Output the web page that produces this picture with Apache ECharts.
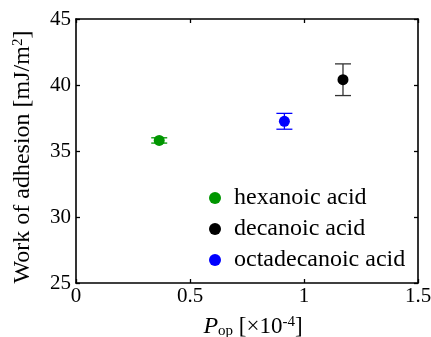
<!DOCTYPE html>
<html>
<head>
<meta charset="utf-8">
<script src="https://cdn.jsdelivr.net/npm/echarts@6/dist/echarts.min.js"></script>
<style>html,body{margin:0;padding:0;background:#fff}#c{width:431px;height:337px}</style>
</head>
<body>
<div id="c"></div>
<script>
const seriesNames = ['hexanoic acid', 'decanoic acid', 'octadecanoic acid'];
const popX = [0.365, 1.171, 0.914];
const workAdhesion = [35.8, 40.4, 37.25];
const workErr = [0.2, 1.2, 0.6];
const colors = ['#009600', '#000000', '#0000ff'];
const barColors = ['#009600', '#333333', '#0000ff'];
const xTicks = [0, 0.5, 1, 1.5];
const yTicks = [25, 30, 35, 40, 45];

const FONT = '"Liberation Serif", "DejaVu Serif", serif';
const chart = echarts.init(document.getElementById('c'));

const scatterSeries = seriesNames.map((n, i) => ({
  name: n,
  type: 'scatter',
  xAxisIndex: 0, yAxisIndex: 0,
  symbol: 'circle',
  symbolSize: 11,
  itemStyle: { color: colors[i], opacity: 1 },
  data: [[popX[i], workAdhesion[i]]],
  z: 5
}));

const errData = seriesNames.map((n, i) => [popX[i], workAdhesion[i], workErr[i], i]);

const errSeries = {
  name: 'error',
  type: 'custom',
  xAxisIndex: 0, yAxisIndex: 0,
  data: errData,
  z: 4,
  renderItem: function (params, api) {
    const x = api.value(0), y = api.value(1), e = api.value(2), k = api.value(3);
    const top = api.coord([x, y + e]);
    const bot = api.coord([x, y - e]);
    const hw = 8;
    const style = { stroke: barColors[k], lineWidth: 1.3, fill: null };
    return {
      type: 'group',
      children: [
        { type: 'line', shape: { x1: top[0], y1: top[1], x2: bot[0], y2: bot[1] }, style: style },
        { type: 'line', shape: { x1: top[0] - hw, y1: top[1], x2: top[0] + hw, y2: top[1] }, style: style },
        { type: 'line', shape: { x1: bot[0] - hw, y1: bot[1], x2: bot[0] + hw, y2: bot[1] }, style: style }
      ]
    };
  }
};

function axLine() { return { show: true, onZero: false, lineStyle: { color: '#000', width: 1.6 } }; }
function axTick() { return { show: true, inside: true, length: 4, lineStyle: { color: '#000', width: 1.3 } }; }

chart.setOption({
  animation: false,
  backgroundColor: '#fff',
  grid: { left: 76, right: 13, top: 19, bottom: 54, containLabel: false, outerBoundsMode: 'none' },
  legend: {
    orient: 'vertical',
    left: 209, top: 186, padding: 0,
    itemWidth: 12, itemHeight: 12, itemGap: 7,
    icon: 'circle',
    data: seriesNames,
    textStyle: { fontFamily: FONT, fontSize: 24, color: '#000', lineHeight: 24, padding: [0, 0, 0, 8] }
  },
  xAxis: [{
    type: 'value', position: 'bottom', min: xTicks[0], max: xTicks[xTicks.length - 1], interval: 0.5,
    axisLine: axLine(), axisTick: axTick(), splitLine: { show: false },
    axisLabel: { fontFamily: FONT, fontSize: 21, color: '#000', margin: 3 },
    name: '{i|P}{sub|op} [×10{sup|-4}]',
    nameLocation: 'middle', nameGap: 32,
    nameTextStyle: {
      fontFamily: FONT, fontSize: 23, color: '#000', padding: [0, 0, 0, 12],
      rich: {
        i: { fontFamily: FONT, fontSize: 24, fontStyle: 'italic', color: '#000' },
        sub: { fontFamily: FONT, fontSize: 15, color: '#000', verticalAlign: 'bottom', padding: [9, 0, 0, 0] },
        sup: { fontFamily: FONT, fontSize: 15, color: '#000', verticalAlign: 'top', padding: [0, 0, 9, 0] }
      }
    }
  }, {
    type: 'value', position: 'top', min: xTicks[0], max: xTicks[xTicks.length - 1], interval: 0.5,
    axisLine: axLine(), axisTick: axTick(), splitLine: { show: false }, axisLabel: { show: false }
  }],
  yAxis: [{
    type: 'value', position: 'left', min: yTicks[0], max: yTicks[yTicks.length - 1], interval: 5,
    axisLine: axLine(), axisTick: axTick(), splitLine: { show: false },
    axisLabel: { fontFamily: FONT, fontSize: 21, color: '#000', margin: 5 },
    name: 'Work of adhesion [mJ/m{sup|2}]',
    nameLocation: 'middle', nameGap: 41, nameRotate: 90,
    nameTextStyle: {
      fontFamily: FONT, fontSize: 24, color: '#000', padding: [0, 12, 0, 0],
      rich: {
        sup: { fontFamily: FONT, fontSize: 15, color: '#000', verticalAlign: 'top', padding: [0, 0, 9, 0] }
      }
    }
  }, {
    type: 'value', position: 'right', min: yTicks[0], max: yTicks[yTicks.length - 1], interval: 5,
    axisLine: axLine(), axisTick: axTick(), splitLine: { show: false }, axisLabel: { show: false }
  }],
  series: scatterSeries.concat([errSeries])
});
</script>
</body>
</html>
